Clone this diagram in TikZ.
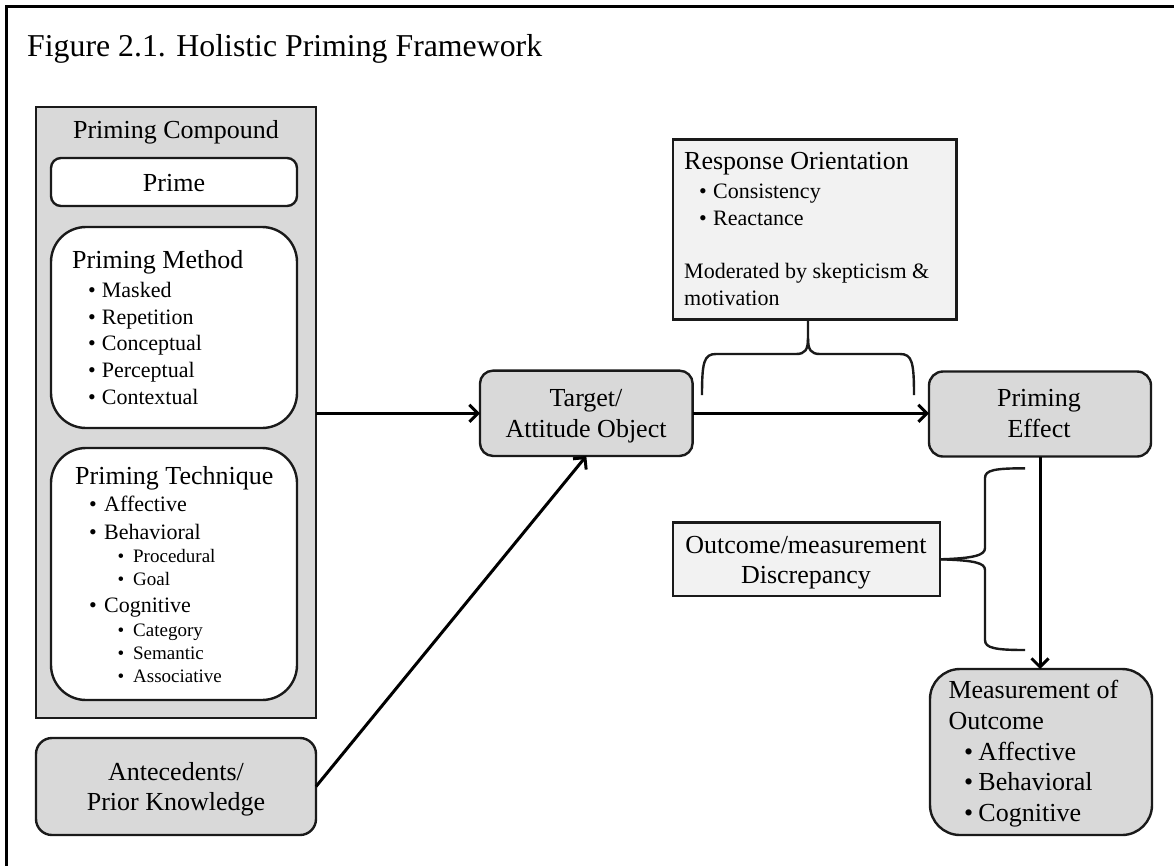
\documentclass[tikz,border=0pt]{standalone}
\usepackage{fontspec}
\setmainfont{Liberation Serif}
\usetikzlibrary{arrows.meta}
\definecolor{boxgray}{HTML}{D9D9D9}
\definecolor{lightbox}{HTML}{F2F2F2}
\definecolor{edgecol}{HTML}{1A1A1A}
\newcommand{\mybul}[1]{\makebox[#1][l]{\textbullet}}
\begin{document}
\begin{tikzpicture}[x=1pt,y=-1pt,
  sbox/.style={draw=edgecol, line width=2.4pt, inner sep=0pt, outer sep=0pt},
  grayround/.style={sbox, fill=boxgray, rounded corners=#1},
  whiteround/.style={sbox, fill=white, rounded corners=#1},
  lightrect/.style={sbox, fill=lightbox},
  graypanel/.style={sbox, fill=boxgray},
  titletxt/.style={font=\fontsize{31.8}{36}\selectfont, inner sep=0pt, anchor=base west},
  hdr/.style={font=\fontsize{26}{31}\selectfont, inner sep=0pt},
  itm/.style={font=\fontsize{22}{27}\selectfont, inner sep=0pt, anchor=base west},
  subitm/.style={font=\fontsize{19}{23}\selectfont, inner sep=0pt, anchor=base west},
  conn/.style={line width=3pt, draw=black, -{Straight Barb[length=8.5pt,width=17pt]}},
  bracepath/.style={line width=2.4pt, draw=edgecol},
]
\useasboundingbox (0,0) rectangle (1174,865);
\fill[white] (0,0) rectangle (1174,865);
% outer frame
\draw[line width=2.6pt] (6.5,866) -- (6.5,6.5) -- (1175,6.5);

\node[titletxt] (title) at (27,56) {Figure 2.1. Holistic Priming Framework};

% left panel
\node[graypanel, minimum width=280, minimum height=611] (comp) at (176,412.5) {};
\node[hdr, anchor=base] (comphdr) at (176,138) {Priming Compound};
\node[whiteround=10, minimum width=246, minimum height=48] (prime) at (174,182) {};
\node[hdr, anchor=base] (primetxt) at (174,191) {Prime};

\node[whiteround=35, minimum width=246, minimum height=201] (method) at (174,327.5) {};
\node[hdr, anchor=base west] (methodhdr) at (72,268) {Priming Method};
\node[itm] (m1) at (88,297) {\mybul{13.7pt}Masked};
\node[itm] (m2) at (88,324) {\mybul{13.7pt}Repetition};
\node[itm] (m3) at (88,350.5) {\mybul{13.7pt}Conceptual};
\node[itm] (m4) at (88,377) {\mybul{13.7pt}Perceptual};
\node[itm] (m5) at (88,404) {\mybul{13.7pt}Contextual};

\node[whiteround=35, minimum width=246, minimum height=252] (tech) at (174,574) {};
\node[hdr, anchor=base west] (techhdr) at (75,484) {Priming Technique};
\node[itm] (t1) at (89,511.7) {\mybul{15pt}Affective};
\node[itm] (t2) at (89,539) {\mybul{15pt}Behavioral};
\node[subitm] (t3) at (117.4,562.7) {\mybul{15.6pt}Procedural};
\node[subitm] (t4) at (117.4,585.7) {\mybul{15.6pt}Goal};
\node[itm] (t5) at (89,612.7) {\mybul{15pt}Cognitive};
\node[subitm] (t6) at (117.4,636.7) {\mybul{15.6pt}Category};
\node[subitm] (t7) at (117.4,659.3) {\mybul{15.6pt}Semantic};
\node[subitm] (t8) at (117.4,682.3) {\mybul{15.6pt}Associative};

% antecedents
\node[grayround=16, minimum width=280, minimum height=97] (ante) at (176,786.5) {};
\node[hdr, anchor=base] (ante1) at (176,780) {Antecedents/};
\node[hdr, anchor=base] (ante2) at (176,810) {Prior Knowledge};

% target
\node[grayround=13, minimum width=212.7, minimum height=85.3] (target) at (586.3,413.3) {};
\node[hdr, anchor=base] (target1) at (586,406.7) {Target/};
\node[hdr, anchor=base] (target2) at (586,437.3) {Attitude Object};

% response orientation
\node[lightrect, minimum width=283.7, minimum height=180] (resp) at (814.8,229.3) {};
\node[hdr, anchor=base west] (resphdr) at (684,169) {Response Orientation};
\node[itm] (r1) at (699,198) {\mybul{14pt}Consistency};
\node[itm] (r2) at (699,225) {\mybul{14pt}Reactance};
\node[itm] (r3) at (684,278.3) {Moderated by skepticism \&};
\node[itm] (r4) at (684,305.7) {motivation};

% priming effect
\node[grayround=14, minimum width=222, minimum height=85] (effect) at (1040,414) {};
\node[hdr, anchor=base] (effect1) at (1039,406.7) {Priming};
\node[hdr, anchor=base] (effect2) at (1039,437.3) {Effect};

% outcome discrepancy
\node[lightrect, minimum width=267, minimum height=73.3] (outc) at (806.5,559.3) {};
\node[hdr, anchor=base] (outc1) at (806,553.3) {Outcome/measurement};
\node[hdr, anchor=base] (outc2) at (806,583.3) {Discrepancy};

% measurement of outcome
\node[grayround=30, minimum width=222, minimum height=166] (meas) at (1041,752) {};
\node[hdr, anchor=base west] (meas1) at (948.3,698.3) {Measurement of};
\node[hdr, anchor=base west] (meas2) at (948.3,729.3) {Outcome};
\node[hdr, anchor=base west] (meas3) at (963.8,760) {\mybul{14.5pt}Affective};
\node[hdr, anchor=base west] (meas4) at (963.8,790.7) {\mybul{14.5pt}Behavioral};
\node[hdr, anchor=base west] (meas5) at (963.8,821.7) {\mybul{14.5pt}Cognitive};

% connectors
\draw[conn] (comp.east |- target.west) -- (target.west);
\draw[conn] (target.east) -- (target.east -| effect.west);
\draw[conn] (ante.east) -- (target.south);
\draw[conn] (effect.south) -- (effect.south |- meas.north);

% brace under response orientation
\coordinate (bl) at (702,395);
\coordinate (br) at (914,395);
\coordinate (cuspt) at (808,338);
\draw[bracepath] (bl) .. controls (702,362) and (704,354) .. (716,354) -- (796,354) .. controls (805,354) and (808,350) .. (cuspt) -- (cuspt |- resp.south);
\draw[bracepath] (cuspt) .. controls (808,350) and (811,354) .. (820,354) -- (900,354) .. controls (912,354) and (914,362) .. (br);

% brace beside the vertical arrow
\coordinate (bt) at (1025,468.3);
\coordinate (bb) at (1025,650);
\coordinate (cuspr) at (outc.east);
\draw[bracepath] (bt) .. controls (995,468.3) and (985,470) .. (985,478) -- (985,548) .. controls (985,555) and (975,558.3) .. (cuspr);
\draw[bracepath] (cuspr) .. controls (975,560.3) and (985,563) .. (985,570) -- (985,640) .. controls (985,648) and (995,650) .. (bb);
\end{tikzpicture}
\end{document}
